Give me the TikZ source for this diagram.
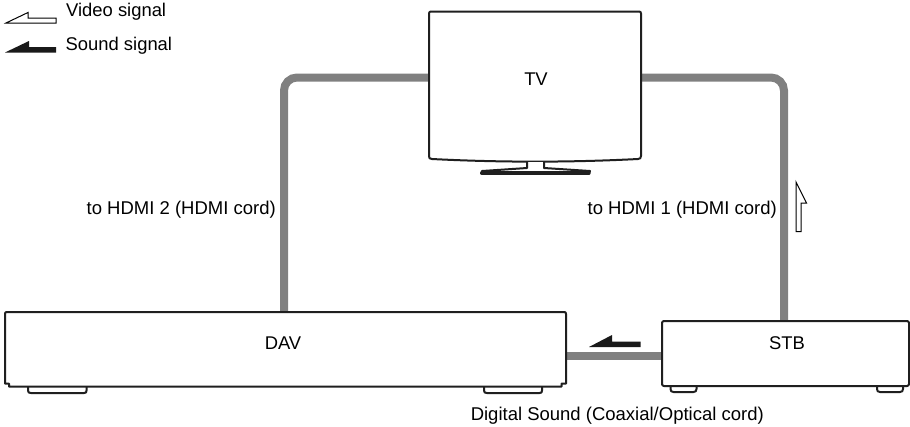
\documentclass[tikz,border=0pt]{standalone}
\usepackage{fontspec}
\setmainfont{Liberation Sans}
\tikzset{
  x=1pt,y=-1pt,
  outline/.style={draw=black!88,line width=2pt,line join=round},
  cord/.style={draw=black!50,line width=8pt},
  boxlabel/.style={inner sep=0pt,font=\fontsize{18.4}{20}\selectfont},
  captiontext/.style={inner sep=0pt,font=\fontsize{18.5}{20}\selectfont},
  legendtext/.style={inner sep=0pt,anchor=west,font=\fontsize{18.4}{20}\selectfont},
  region/.style={inner sep=0pt,outer sep=0pt,minimum width=#1},
  videoarrow/.style={draw=black,fill=white,line width=1pt,line join=miter},
  soundarrow/.style={draw=none,fill=black!90},
}
\begin{document}
\begin{tikzpicture}
\useasboundingbox[fill=white] (0,0) rectangle (910,426);
% device regions, named so the cords can end on them
\node[region=212pt,minimum height=148pt] (tv) at (535,85.5) {};
\node[region=561pt,minimum height=74pt] (dav) at (285.5,349) {};
\node[region=247pt,minimum height=65pt] (stb) at (785.5,353.5) {};
\coordinate (lbend) at (284,77.5);
\coordinate (rbend) at (784,77.5);
\coordinate (dleft) at (566,355.5);
% cords
\draw[cord,rounded corners=13pt] (tv.west |- lbend) -- (lbend) -- (lbend |- dav.north);
\draw[cord,rounded corners=13pt] (tv.east |- rbend) -- (rbend) -- (rbend |- stb.north);
\draw[cord] (stb.west |- dleft) -- (dav.east |- dleft);
% TV
\draw[outline] (431,11.5) -- (639,11.5) .. controls (640.3,11.5) and (641,12.2) .. (641,13.5)
  -- (641,156) .. controls (641,158) and (640,159) .. (638,159)
  .. controls (570,162.5) and (500,162.5) .. (432,159)
  .. controls (429.5,159) and (429,158) .. (429,156) -- (429,13.5)
  .. controls (429,12.2) and (429.7,11.5) .. (431,11.5) -- cycle;
\draw[line width=2pt,draw=black!88,fill=white,line join=round] (527,162) -- (527,168) -- (482,171) -- (481,173.5) -- (589,173.5) -- (590,171) -- (544,168) -- (544,162);
\draw[line width=3.2pt,draw=black!88,line cap=round] (482,173) -- (589,173);
% DAV
\draw[outline] (28,386) -- (28,390.5) .. controls (28,392.5) and (29,393) .. (31,393) -- (84,393) .. controls (86,393) and (86.5,392.5) .. (86.5,390.5) -- (86.5,386);
\draw[outline] (484,386) -- (484,390.5) .. controls (484,392.5) and (485,393) .. (487,393) -- (539.5,393) .. controls (541.5,393) and (542,392.5) .. (542,390.5) -- (542,386);
\draw[outline] (7,312) -- (564,312) .. controls (565.5,312) and (566,312.5) .. (566,314) -- (566,383.5) -- (561.5,383.5) -- (561.5,386.5) -- (9,386.5) -- (9,383.5) -- (5,383.5) -- (5,314) .. controls (5,312.5) and (5.5,312) .. (7,312) -- cycle;
% STB
\draw[outline] (670.5,386) -- (670.5,389) .. controls (670.5,391) and (671.5,392) .. (673.5,392) -- (693.5,392) .. controls (695.5,392) and (696.5,391) .. (696.5,389) -- (696.5,386);
\draw[outline] (877,386) -- (877,389) .. controls (877,391) and (878,392) .. (880,392) -- (900,392) .. controls (902,392) and (903,391) .. (903,389) -- (903,386);
\draw[outline,rounded corners=2pt] (stb.north west) rectangle (stb.south east);
% box labels
\node[boxlabel] (tvlabel) at (536,79) {TV};
\node[boxlabel] (davlabel) at (283,343) {DAV};
\node[boxlabel] (stblabel) at (787,343) {STB};
% captions
\node[captiontext,anchor=east] (hdmitwo) at (276,210) {to HDMI 2 (HDMI cord)};
\node[captiontext,anchor=east] (hdmione) at (777,210) {to HDMI 1 (HDMI cord)};
\node[captiontext,anchor=east] (digital) at (764,416) {Digital Sound (Coaxial/Optical cord)};
% legend
\node[legendtext] (videokey) at (66,12) {Video signal};
\node[legendtext] (soundkey) at (65.5,46) {Sound signal};
\draw[videoarrow] (6,23) -- (28,12.5) -- (28,18) -- (56,18) -- (56,23) -- cycle;
\fill[black!90] (5,52.5) -- (29,41) -- (29,47) -- (56,47) -- (56,52.5) -- cycle;
% signal arrows
\path[soundarrow] (589,347) -- (612,335) -- (612,341.5) -- (640.5,341.5) -- (640.5,347) -- cycle;
\draw[videoarrow] (796,182) -- (806.5,203) -- (801,203) -- (801,231.5) -- (796,231.5) -- cycle;
\end{tikzpicture}
\end{document}
